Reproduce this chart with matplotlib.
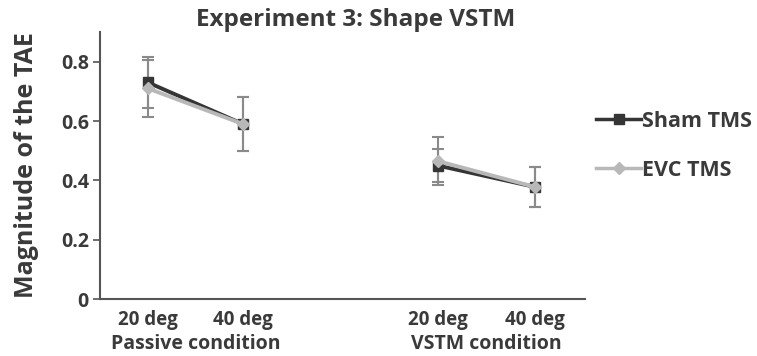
import matplotlib.pyplot as plt
from matplotlib.lines import Line2D
import numpy as np

plt.rcParams['font.family'] = ['Open Sans', 'DejaVu Sans']
plt.rcParams['font.weight'] = 'bold'

# data
tick_labels = ['20 deg', '40 deg', '20 deg', '40 deg']
conditions = ['Passive condition', 'VSTM condition']
sham_mean = [0.73, 0.59, 0.45, 0.378]
sham_err = [0.085, 0.09, 0.055, 0.068]
evc_mean = [0.71, 0.59, 0.465, 0.378]
evc_err = [0.095, 0.09, 0.08, 0.068]

xpos = np.array([1.0, 2.0, 4.05, 5.07])
text_col = '#3a3a3a'

fig = plt.figure(figsize=(7.57, 3.56), dpi=100)
ax = fig.add_axes([0.132, 0.160, 0.641, 0.750])

series = [
    ('Sham TMS', sham_mean, sham_err, '#353535', 's', 7),
    ('EVC TMS', evc_mean, evc_err, '#b8b8b8', 'D', 6),
]
handles = []
for label, m, e, col, mk, ms in series:
    m = np.array(m)
    e = np.array(e)
    for seg in (slice(0, 2), slice(2, 4)):
        ax.errorbar(xpos[seg], m[seg], yerr=e[seg], color=col, marker=mk,
                    markersize=ms, linewidth=2.8, ecolor='#8a8a8a',
                    elinewidth=1.5, capsize=4, capthick=1.5, zorder=3)
    handles.append(Line2D([], [], color=col, marker=mk, markersize=ms,
                          linewidth=2.5, label=label))

ax.set_xlim(0.495, 5.6)
ax.set_ylim(0, 0.9)
ax.set_yticks([0, 0.2, 0.4, 0.6, 0.8])
ax.set_yticklabels(['0', '0.2', '0.4', '0.6', '0.8'])
ax.set_xticks(xpos)
ax.set_xticklabels(tick_labels)
ax.tick_params(axis='x', length=0, pad=8, labelsize=13.5, labelcolor=text_col)
ax.tick_params(axis='y', length=5, width=1.2, color='#555555', pad=3,
               labelsize=14, labelcolor=text_col)
for lab in ax.get_xticklabels() + ax.get_yticklabels():
    lab.set_fontweight('bold')

for s in ['top', 'right']:
    ax.spines[s].set_visible(False)
for s in ['left', 'bottom']:
    ax.spines[s].set_color('#555555')
    ax.spines[s].set_linewidth(1.5)

for cx, name in zip([(xpos[0] + xpos[1]) / 2, (xpos[2] + xpos[3]) / 2], conditions):
    ax.text(cx, -0.168, name, transform=ax.get_xaxis_transform(),
            ha='center', va='center', fontsize=14, fontweight='bold',
            color=text_col)

ax.set_ylabel('Magnitude of the TAE', fontsize=18, fontweight='bold',
              color=text_col, labelpad=16)
ax.set_title('Experiment 3: Shape VSTM', fontsize=17.5, fontweight='bold',
             color=text_col, pad=3, x=0.527)

leg = fig.legend(handles=handles, loc='center left',
                 bbox_to_anchor=(0.762, 0.590), frameon=False,
                 fontsize=15.5, handlelength=2.1, handletextpad=0.05,
                 labelspacing=1.3)
for t in leg.get_texts():
    t.set_color(text_col)
    t.set_fontweight('bold')

fig.savefig('out.png', dpi=100)
